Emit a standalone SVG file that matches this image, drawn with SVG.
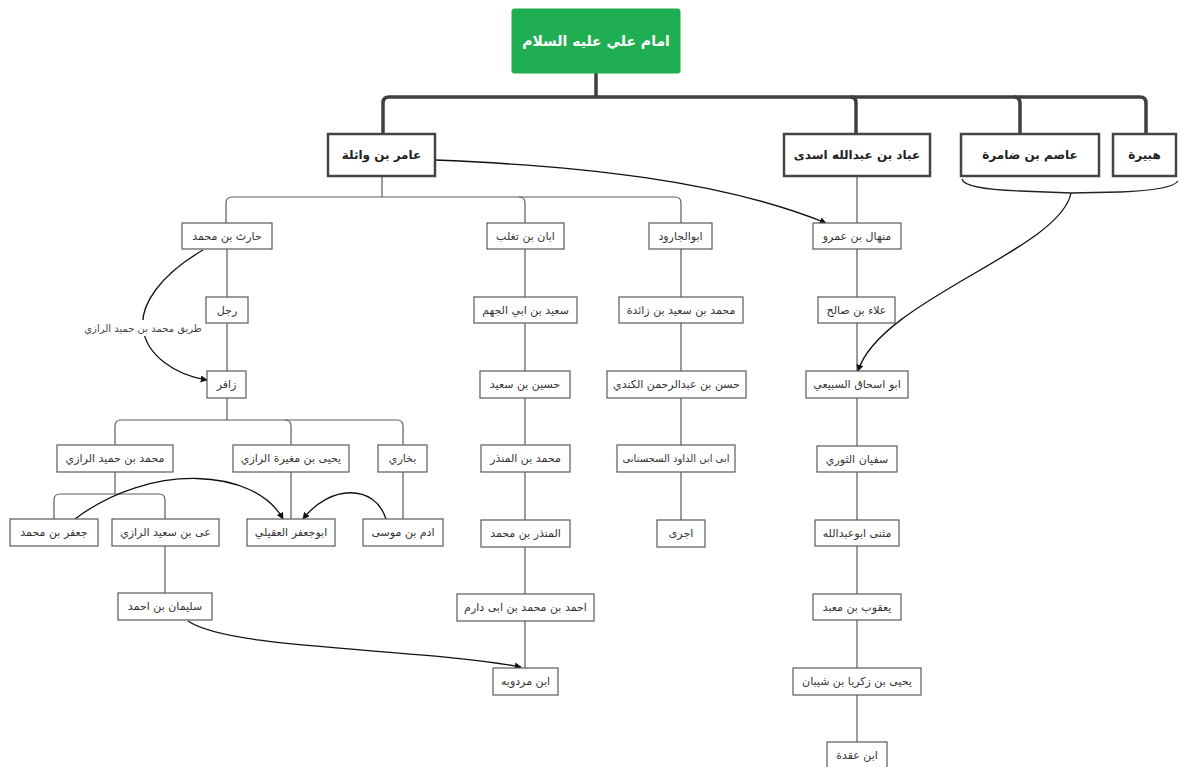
<svg xmlns="http://www.w3.org/2000/svg" width="1180" height="767" viewBox="0 0 1180 767">
<style>
.bg{fill:#ffffff}
.box rect{fill:#ffffff;stroke:#5a5a5a;stroke-width:1.2}
.box text{font-family:"DejaVu Sans",sans-serif;font-size:11px;fill:#333;text-anchor:middle;dominant-baseline:central}
.box text.sm{font-size:10px}
.top rect{fill:#ffffff;stroke:#444;stroke-width:2.5}
.top text{font-family:"DejaVu Sans",sans-serif;font-size:12px;font-weight:bold;fill:#222;text-anchor:middle;dominant-baseline:central}
.root rect{fill:#1fae51;stroke:#1fae51;stroke-width:1}
.root text{font-family:"DejaVu Sans",sans-serif;font-size:14px;font-weight:bold;fill:#ffffff;text-anchor:middle;dominant-baseline:central}
.thick{fill:none;stroke:#3f3f3f;stroke-width:3.5}
.thin{fill:none;stroke:#5a5a5a;stroke-width:1.2}
.arr{fill:none;stroke:#111;stroke-width:1.3;marker-end:url(#ah)}
.brace{fill:none;stroke:#222;stroke-width:1.3}
.lbl{font-family:"DejaVu Sans",sans-serif;font-size:10px;fill:#444;text-anchor:middle;dominant-baseline:central}
</style>
<defs>
<marker id="ah" viewBox="0 0 10 10" refX="9" refY="5" markerWidth="7" markerHeight="7" markerUnits="userSpaceOnUse" orient="auto">
<path d="M0,0 L10,5 L0,10 z" fill="#111"/>
</marker>
</defs>
<rect class="bg" x="0" y="0" width="1180" height="767"/>

<g id="connectors">
<path class="thick" d="M596,73 V97"/>
<path class="thick" d="M383,134 V103 Q383,97 389,97 H1140 Q1146,97 1146,103 V134"/>
<path class="thick" d="M856,134 V103 Q856,97 850,97"/>
<path class="thick" d="M1020,134 V103 Q1020,97 1014,97"/>

<path class="thin" d="M382,176 V197"/>
<path class="thin" d="M226,223 V203 Q226,197 232,197 H675 Q681,197 681,203 V223"/>
<path class="thin" d="M519,197 Q525,197 525,203 V223"/>

<path class="thin" d="M227,249 V297 M227,323 V371 M227,398 V420"/>
<path class="thin" d="M115,445 V426 Q115,420 121,420 H397 Q403,420 403,426 V445"/>
<path class="thin" d="M285,420 Q291,420 291,426 V445"/>
<path class="thin" d="M115,472 V494"/>
<path class="thin" d="M54,519 V500 Q54,494 60,494 H159 Q165,494 165,500 V519"/>
<path class="thin" d="M291,472 V519 M403,472 V519 M165,546 V593"/>

<path class="thin" d="M525,249 V668"/>
<path class="thin" d="M681,249 V520"/>
<path class="thin" d="M857,176 V742"/>

<path class="arr" d="M435,160 C580,166 720,180 826,223"/>
<path class="brace" d="M962,179 Q964,189 1020,191 L1071,193 L1120,192 Q1172,190 1178,181"/>
<path class="arr" d="M1071,193 C1060,250 880,300 858,371"/>
<path class="arr" d="M203,250 C160,275 140,305 143,328 C146,355 175,375 207,380"/>
<path class="arr" d="M75,519 C150,462 255,468 283,519"/>
<path class="arr" d="M386,519 C375,484 330,484 303,519"/>
<path class="arr" d="M188,621 C230,650 420,648 521,667"/>
<rect x="84" y="320" width="120" height="16" fill="#ffffff"/>
<text class="lbl" x="143" y="328">طريق محمد بن حميد الرازي</text>
</g>

<g id="n_root" class="root"><rect x="512" y="9" width="168" height="64" rx="2"/><text x="596" y="41">امام علي عليه السلام</text></g>

<g id="n_amer" class="top"><rect x="328" y="134" width="107" height="42"/><text x="381.5" y="155">عامر بن واثلة</text></g>
<g id="n_abbad" class="top"><rect x="784" y="134" width="146" height="42"/><text x="857" y="155">عباد بن عبدالله اسدی</text></g>
<g id="n_asem" class="top"><rect x="961" y="134" width="138" height="42"/><text x="1030" y="155">عاصم بن ضامرة</text></g>
<g id="n_hobayra" class="top"><rect x="1113" y="134" width="63" height="42"/><text x="1144.5" y="155">هبيرة</text></g>

<g id="n_hareth" class="box"><rect x="182" y="223" width="90" height="26"/><text x="227" y="236">حارث بن محمد</text></g>
<g id="n_rajol" class="box"><rect x="206" y="297" width="42" height="26"/><text x="227" y="310">رجل</text></g>
<g id="n_zafer" class="box"><rect x="207" y="371" width="39" height="27"/><text x="226.5" y="384.5">زافر</text></g>
<g id="n_mhamid" class="box"><rect x="57" y="445" width="116" height="27"/><text x="115" y="458.5">محمد بن حميد الرازي</text></g>
<g id="n_yahya_m" class="box"><rect x="233" y="445" width="116" height="27"/><text x="291" y="458.5">يحيى بن مغيرة الرازي</text></g>
<g id="n_bokhari" class="box"><rect x="378" y="445" width="49" height="27"/><text x="402.5" y="458.5">بخاري</text></g>
<g id="n_jafar" class="box"><rect x="10" y="519" width="88" height="27"/><text x="54" y="532.5">جعفر بن محمد</text></g>
<g id="n_ali_s" class="box"><rect x="112" y="519" width="107" height="27"/><text x="165.5" y="532.5">عى بن سعيد الرازي</text></g>
<g id="n_aqili" class="box"><rect x="247" y="519" width="88" height="27"/><text x="291" y="532.5">ابوجعفر العقيلي</text></g>
<g id="n_adam" class="box"><rect x="363" y="519" width="80" height="27"/><text x="403" y="532.5">ادم بن موسى</text></g>
<g id="n_soleiman" class="box"><rect x="118" y="593" width="94" height="27"/><text x="165" y="606.5">سليمان بن احمد</text></g>

<g id="n_aban" class="box"><rect x="487" y="223" width="77" height="26"/><text x="525.5" y="236">ابان بن تغلب</text></g>
<g id="n_said" class="box"><rect x="474" y="297" width="103" height="26"/><text x="525.5" y="310">سعيد بن ابي الجهم</text></g>
<g id="n_hosein" class="box"><rect x="480" y="371" width="90" height="27"/><text x="525" y="384.5">حسين بن سعيد</text></g>
<g id="n_mmonzer" class="box"><rect x="481" y="445" width="89" height="27"/><text x="525.5" y="458.5">محمد بن المنذر</text></g>
<g id="n_monzer" class="box"><rect x="481" y="520" width="89" height="27"/><text x="525.5" y="533.5">المنذر بن محمد</text></g>
<g id="n_ahmad" class="box"><rect x="457" y="594" width="137" height="27"/><text x="525.5" y="607.5">احمد بن محمد بن ابی دارم</text></g>
<g id="n_mardawayh" class="box"><rect x="493" y="668" width="65" height="27"/><text x="525.5" y="681.5">ابن مردويه</text></g>

<g id="n_jarud" class="box"><rect x="649" y="223" width="63" height="26"/><text x="680.5" y="236">ابوالجارود</text></g>
<g id="n_mzaeda" class="box"><rect x="619" y="297" width="124" height="26"/><text x="681" y="310">محمد بن سعيد بن زائدة</text></g>
<g id="n_hasan" class="box"><rect x="607" y="371" width="139" height="27"/><text x="676.5" y="384.5">حسن بن عبدالرحمن الكندي</text></g>
<g id="n_sejestani" class="box"><rect x="617" y="445" width="118" height="27"/><text class="sm" x="676" y="458.5">ابی ابن الداود السجستانی</text></g>
<g id="n_ajori" class="box"><rect x="657" y="520" width="48" height="27"/><text x="681" y="533.5">اجری</text></g>

<g id="n_menhal" class="box"><rect x="813" y="223" width="88" height="26"/><text x="857" y="236">منهال بن عمرو</text></g>
<g id="n_alaa" class="box"><rect x="818" y="297" width="77" height="26"/><text x="856.5" y="310">علاء بن صالح</text></g>
<g id="n_sabiei" class="box"><rect x="806" y="371" width="102" height="27"/><text x="857" y="384.5">ابو اسحاق السبيعي</text></g>
<g id="n_thawri" class="box"><rect x="817" y="446" width="80" height="26"/><text x="857" y="459">سفيان الثوري</text></g>
<g id="n_mothanna" class="box"><rect x="815" y="520" width="84" height="26"/><text x="857" y="533">مثنی ابوعبدالله</text></g>
<g id="n_yaqub" class="box"><rect x="813" y="594" width="88" height="26"/><text x="857" y="607">يعقوب بن معبد</text></g>
<g id="n_yahya_z" class="box"><rect x="793" y="668" width="128" height="27"/><text x="857" y="681.5">يحيى بن زكريا بن شيبان</text></g>
<g id="n_oqda" class="box"><rect x="827" y="742" width="60" height="27"/><text x="857" y="755.5">ابن عقدة</text></g>
</svg>
